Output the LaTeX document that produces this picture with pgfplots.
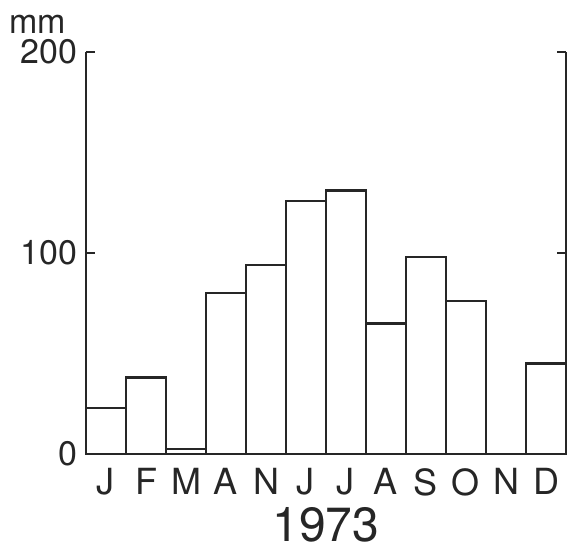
\documentclass[border=0pt]{standalone}
\usepackage{fontspec}
\setmainfont{TeX Gyre Heros}
\usepackage{pgfplots}
\pgfplotsset{compat=1.18}
\begin{document}
\begin{tikzpicture}
\begin{axis}[
  name=ax,
  at={(0,0)}, anchor=south west,
  scale only axis, width=240pt, height=201pt,
  xmin=0.5, xmax=12.5, ymin=0, ymax=200,
  axis x line=bottom, axis y line=box,
  axis line style={-, line width=1.2pt, black!85},
  ybar, bar width=20pt, bar shift=0pt,
  xtick={1,...,12},
  xticklabels={J,F,M,A,N,J,J,A,S,O,N,D},
  xtick style={draw=none},
  ytick={0,100,200},
  yticklabels={0,100,200},
  yticklabel pos=left,
  tick align=inside,
  major tick length=4.5pt,
  ytick style={line width=1.2pt, black!85},
  /pgf/number format/assume math mode=true,
  yticklabel style={font=\fontsize{17}{17}\selectfont, inner sep=0pt, anchor=east, xshift=-4pt, text=black!85},
  xticklabel style={font=\fontsize{18}{18}\selectfont, inner sep=0pt, anchor=north, yshift=-7pt, text=black!85},
  xlabel={1973},
  xlabel style={font=\fontsize{24}{24}\selectfont, at={(axis description cs:0.5,0)}, anchor=center, yshift=-35.5pt, text=black!85},
  clip=false,
]
\addplot[draw=black!85, fill=white, line width=1.2pt] coordinates {
  (1,23) (2,38) (3,2.5) (4,80) (5,94) (6,126) (7,131) (8,65) (9,98) (10,76) (11,0) (12,45)
};
\end{axis}
\node[text=black!85, inner sep=0pt, anchor=base] at ([xshift=-24pt, yshift=9pt]ax.north west) {\fontsize{17}{17}\selectfont mm};
\path[use as bounding box] (-43pt,-48.5pt) rectangle (241.5pt,227pt);
\end{tikzpicture}
\end{document}
